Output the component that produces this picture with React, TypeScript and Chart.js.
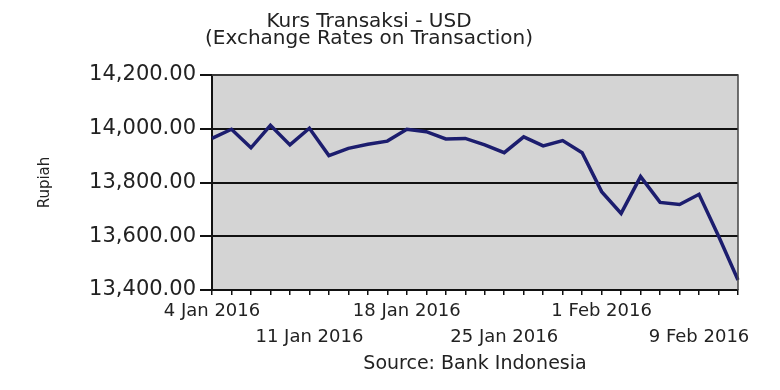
import React, { useEffect, useRef } from "react";
import { Chart, registerables } from "chart.js";

Chart.register(...registerables);

const titleLines = ["Kurs Transaksi - USD", "(Exchange Rates on Transaction)"];
const sourceText = "Source: Bank Indonesia";
const yAxisTitle = "Rupiah";

const dates = [
  "4 Jan 2016", "5 Jan 2016", "6 Jan 2016", "7 Jan 2016", "8 Jan 2016",
  "11 Jan 2016", "12 Jan 2016", "13 Jan 2016", "14 Jan 2016", "15 Jan 2016",
  "18 Jan 2016", "19 Jan 2016", "20 Jan 2016", "21 Jan 2016", "22 Jan 2016",
  "25 Jan 2016", "26 Jan 2016", "27 Jan 2016", "28 Jan 2016", "29 Jan 2016",
  "1 Feb 2016", "2 Feb 2016", "3 Feb 2016", "4 Feb 2016", "5 Feb 2016",
  "9 Feb 2016", "10 Feb 2016", "11 Feb 2016",
];

const rates = [
  13964, 13998, 13929, 14013, 13940,
  14002, 13900, 13927, 13942, 13954,
  13998, 13989, 13962, 13964, 13940,
  13911, 13970, 13936, 13956, 13911,
  13766, 13685, 13822, 13726, 13718,
  13756, 13601, 13437,
];

const labelledIndices = [0, 5, 10, 15, 20, 25];

const yMin = 13400;
const yMax = 14200;
const yStep = 200;

const FONT = "'DejaVu Sans', sans-serif";
const TEXT = "#222222";

const plotBackground = {
  id: "plotBackground",
  beforeDraw(chart: any) {
    const { ctx, chartArea } = chart;
    if (!chartArea) return;
    ctx.save();
    ctx.fillStyle = "#d4d4d4";
    ctx.fillRect(chartArea.left, chartArea.top, chartArea.right - chartArea.left, chartArea.bottom - chartArea.top);
    ctx.restore();
  },
  afterDraw(chart: any) {
    const { ctx, chartArea } = chart;
    if (!chartArea) return;
    ctx.save();
    ctx.strokeStyle = "#444444";
    ctx.lineWidth = 1.5;
    ctx.beginPath();
    ctx.moveTo(chartArea.left, chartArea.top);
    ctx.lineTo(chartArea.right, chartArea.top);
    ctx.lineTo(chartArea.right, chartArea.bottom);
    ctx.stroke();
    ctx.restore();
  },
};

export default function App() {
  const canvasRef = useRef<HTMLCanvasElement | null>(null);

  useEffect(() => {
    if (!canvasRef.current) return;
    const chart = new Chart(canvasRef.current, {
      type: "line",
      data: {
        labels: dates,
        datasets: [
          {
            data: rates,
            borderColor: "#1c1d6e",
            borderWidth: 3.5,
            pointRadius: 0,
            tension: 0,
            fill: false,
          },
        ],
      },
      options: {
        animation: false,
        responsive: true,
        maintainAspectRatio: false,
        layout: { padding: { left: 0, right: 42, top: 0, bottom: 0 } },
        plugins: {
          legend: { display: false },
          tooltip: { enabled: false },
          title: {
            display: true,
            text: titleLines,
            color: TEXT,
            font: { family: FONT, size: 20, weight: "normal", lineHeight: "17px" },
            padding: { top: 13, bottom: 28 },
          },
          subtitle: {
            display: true,
            text: sourceText,
            position: "bottom",
            fullSize: false,
            color: TEXT,
            font: { family: FONT, size: 19, weight: "normal", lineHeight: "20px" },
            padding: { top: 0, bottom: 16 },
          },
        },
        scales: {
          x: {
            type: "category",
            offset: false,
            grid: {
              drawOnChartArea: false,
              drawTicks: true,
              tickLength: 5,
              color: "#111111",
              lineWidth: 1.5,
            },
            border: { display: true, color: "#111111", width: 2 },
            ticks: {
              autoSkip: false,
              maxRotation: 0,
              minRotation: 0,
              padding: 3,
              color: TEXT,
              font: { family: FONT, size: 18, lineHeight: "26.5px" },
              callback: (_v: any, index: number) => {
                const k = labelledIndices.indexOf(index);
                if (k < 0) return "";
                return k % 2 === 0 ? dates[index] : ["", dates[index]];
              },
            },
          },
          y: {
            min: yMin,
            max: yMax,
            afterFit: (scale: any) => {
              scale.width = 212;
            },
            grid: {
              drawTicks: true,
              tickLength: 12,
              color: "#111111",
              lineWidth: 2,
            },
            border: { display: true, color: "#111111", width: 2 },
            title: {
              display: true,
              text: yAxisTitle,
              color: TEXT,
              font: { family: FONT, size: 15 },
              padding: { top: 36, bottom: 0 },
            },
            ticks: {
              stepSize: yStep,
              padding: 4,
              color: TEXT,
              font: { family: FONT, size: 21 },
              callback: (v: any) =>
                Number(v).toLocaleString("en-US", { minimumFractionDigits: 2, maximumFractionDigits: 2 }),
            },
          },
        },
      },
      plugins: [plotBackground],
    });
    return () => chart.destroy();
  }, []);

  return (
    <div style={{ position: "fixed", left: 0, top: 0, width: 780, height: 390, background: "#ffffff" }}>
      <canvas ref={canvasRef} />
    </div>
  );
}
